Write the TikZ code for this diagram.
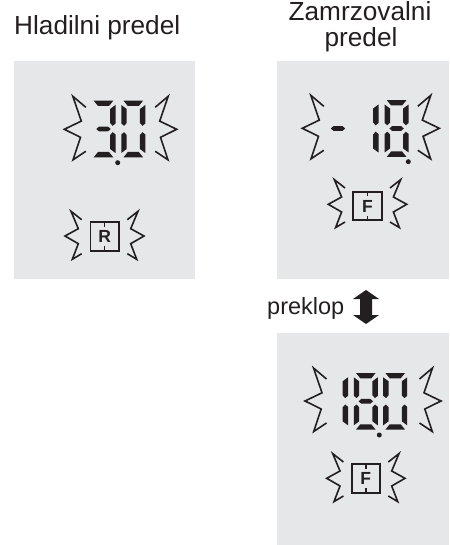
\documentclass[tikz,border=0pt]{standalone}
\usepackage{fontspec}
\setmainfont{Liberation Sans}
\definecolor{panelgray}{HTML}{E6E7E8}
\definecolor{inkgray}{HTML}{231F20}
\tikzset{
  panel/.style={draw=none, fill=panelgray, inner sep=0pt, anchor=north west},
  title/.style={font=\fontsize{26.2}{27}\selectfont, text=inkgray, align=center, inner sep=0pt},
  flash/.style={draw=inkgray, line width=1.6pt, miter limit=10},
  iconbox/.style={draw=inkgray, line width=1.9pt, minimum width=28.5pt, minimum height=28.5pt, inner sep=0pt},
  iconletter/.style={font=\bfseries\fontsize{17.5}{17.5}\selectfont, text=inkgray, inner sep=0pt},
  % segments of a display digit, y runs downwards
  segtop/.pic={\fill[inkgray] (-9.8,-28.3) -- (9.8,-28.3) -- (5.5,-23) -- (-5.5,-23) -- cycle;},
  segbot/.pic={\fill[inkgray] (-9.8,28.3) -- (9.8,28.3) -- (5.5,23) -- (-5.5,23) -- cycle;},
  segmid/.pic={\fill[inkgray] (-7.2,0) -- (-4.5,-2.4) -- (4.5,-2.4) -- (7.2,0) -- (4.5,2.4) -- (-4.5,2.4) -- cycle;},
  segtl/.pic={\fill[inkgray] (-12,-24) -- (-6.6,-20) -- (-6.6,-6) -- (-9.2,-3.2) -- (-12,-5.5) -- cycle;},
  segtr/.pic={\fill[inkgray] (12,-24) -- (6.6,-20) -- (6.6,-6) -- (9.2,-3.2) -- (12,-5.5) -- cycle;},
  segbl/.pic={\fill[inkgray] (-12,24) -- (-6.6,20) -- (-6.6,6) -- (-9.2,3.2) -- (-12,5.5) -- cycle;},
  segbr/.pic={\fill[inkgray] (12,24) -- (6.6,20) -- (6.6,6) -- (9.2,3.2) -- (12,5.5) -- cycle;},
  % flashes start from their tip
  bigflash/.pic={\draw[flash] (21.5,-22) -- (8.7,-30.5) -- (16.2,-8) -- (0,0) -- (17,8.2) -- (8.5,33) -- (21.5,22);},
  smallflash/.pic={\draw[flash] (16.7,-17.7) -- (7.3,-23.3) -- (13.3,-7.7) -- (0,0) -- (13.3,7.3) -- (6,24.7) -- (16.7,16.3);},
}
\begin{document}
\begin{tikzpicture}[x=1pt, y=1pt, yscale=-1]
  \useasboundingbox (0,0) rectangle (449,545);
  \node[panel, minimum width=181pt, minimum height=218pt] (coolpanel) at (14,61) {};
  \fill[panelgray] (277,61) rectangle (449,279);
  \fill[panelgray] (277,333) rectangle (449,545);
  \node[title, anchor=base west] (cooltitle) at (14,35) {Hladilni predel};
  \node[title, anchor=base] (freezetitle) at (360,21) {Zamrzovalni};
  \node[title, anchor=base] (freezetitleb) at (361,47) {predel};
  \node[title, font=\fontsize{23.5}{24}\selectfont, anchor=base east] (switchlabel) at (344.5,314) {preklop};
  \fill[inkgray] (366,290) -- (379,299) -- (372,299) -- (372,315) -- (379,315) -- (366,324) -- (353,315) -- (360,315) -- (360,299) -- (353,299) -- cycle;
  % digits
  \foreach \cx/\cy/\segs in {103.5/129/{top,mid,bot,tr,br}, 133.3/129/{top,bot,tl,tr,bl,br},
      366.5/128.5/{tr,br}, 396.6/128.5/{top,mid,bot,tl,tr,bl,br}, 338/128.5/{mid},
      336/401.3/{tr,br}, 365.8/401.3/{top,mid,bot,tl,tr,bl,br}, 395.2/401.3/{top,bot,tl,tr,bl,br}} {
    \foreach \s in \segs
      \pic at (\cx,\cy) {seg\s};
  }
  \foreach \dx/\dy in {117.7/162.7, 408.3/161.7, 379.3/435}
    \fill[inkgray] (\dx,\dy) circle (2.5);
  % flashes round the digits
  \foreach \tx/\rx/\ty in {64.3/176.7/129.3, 302.3/439.3/128.3, 305/441/401} {
    \pic at (\tx,\ty) {bigflash};
    \pic[xscale=-1] at (\rx,\ty) {bigflash};
  }
  % icons
  \foreach \name/\bx/\by/\lx/\rx/\fy/\txt in {coolicon/104.7/236.3/65/144/236/R, freezeicon/367.5/206/328.3/406.7/204.3/F, alticon/365.8/478.5/326.7/405/478.3/F} {
    \node[iconbox] (\name) at (\bx,\by) {};
    \node[iconletter] (\name letter) at (\bx,\by) {\txt};
    \draw[inkgray, line width=1.5pt] (\name.north) -- ++(0,5.5);
    \draw[inkgray, line width=1.5pt] (\name.south) -- ++(0,-5.5);
    \pic at (\lx,\fy) {smallflash};
    \pic[xscale=-1] at (\rx,\fy) {smallflash};
  }
\end{tikzpicture}
\end{document}
